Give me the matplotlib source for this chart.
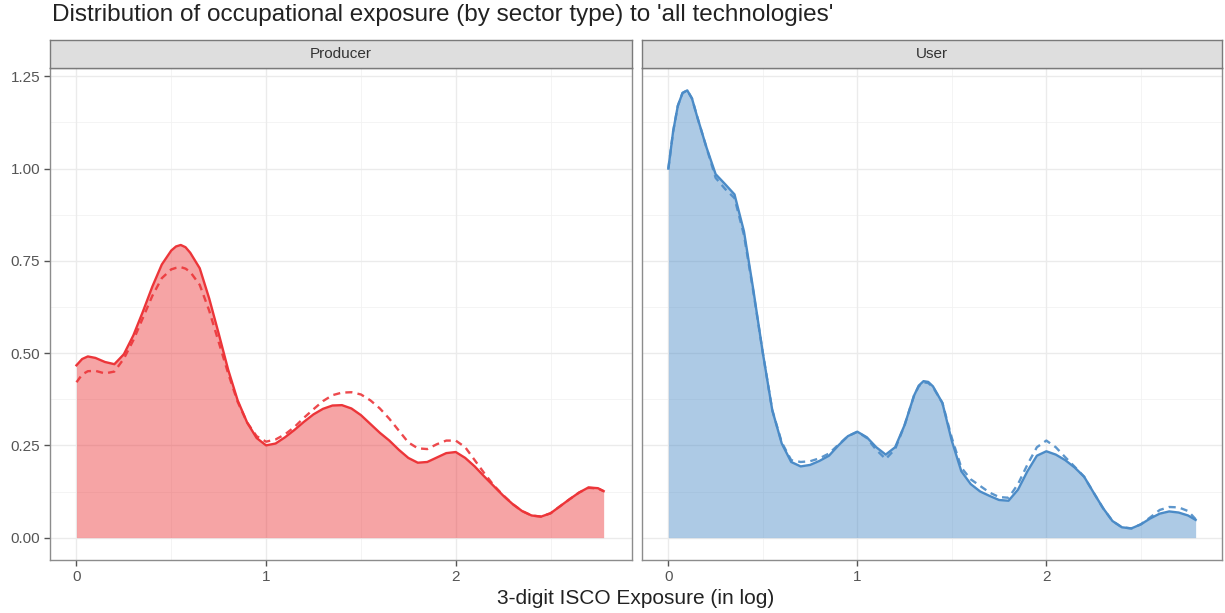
import matplotlib
matplotlib.use("Agg")
import matplotlib.pyplot as plt
import numpy as np

plt.rcParams['font.family'] = ['Liberation Sans', 'DejaVu Sans']

# ---------------- data ----------------
title = "Distribution of occupational exposure (by sector type) to 'all technologies'"
panels = ["Producer", "User"]
x_label = "3-digit ISCO Exposure (in log)"

x_prod = [0.00, 0.03, 0.06, 0.10, 0.15, 0.20, 0.25, 0.30, 0.35, 0.40, 0.45, 0.50, 0.525, 0.55, 0.575,
          0.60, 0.65, 0.70, 0.75, 0.80, 0.85, 0.90, 0.95, 1.00, 1.05, 1.10, 1.15, 1.20, 1.25, 1.30,
          1.35, 1.40, 1.45, 1.50, 1.55, 1.60, 1.65, 1.70, 1.75, 1.80, 1.85, 1.90, 1.95, 2.00, 2.05,
          2.10, 2.15, 2.20, 2.25, 2.30, 2.35, 2.40, 2.45, 2.50, 2.55, 2.60, 2.65, 2.70, 2.75, 2.78]
prod_solid = [0.467, 0.484, 0.491, 0.487, 0.476, 0.470, 0.497, 0.548, 0.612, 0.680, 0.740, 0.778,
              0.789, 0.793, 0.787, 0.772, 0.730, 0.648, 0.553, 0.455, 0.372, 0.312, 0.270, 0.250,
              0.255, 0.272, 0.292, 0.314, 0.334, 0.349, 0.358, 0.359, 0.350, 0.332, 0.308, 0.284,
              0.263, 0.238, 0.216, 0.203, 0.205, 0.217, 0.229, 0.232, 0.216, 0.193, 0.166, 0.140,
              0.114, 0.091, 0.072, 0.060, 0.057, 0.066, 0.085, 0.104, 0.122, 0.136, 0.134, 0.126]
prod_dashed = [0.421, 0.442, 0.451, 0.452, 0.445, 0.450, 0.485, 0.535, 0.595, 0.655, 0.703, 0.727,
               0.731, 0.733, 0.729, 0.720, 0.685, 0.615, 0.530, 0.445, 0.368, 0.312, 0.275, 0.260,
               0.266, 0.280, 0.300, 0.325, 0.348, 0.370, 0.386, 0.393, 0.394, 0.388, 0.372, 0.350,
               0.322, 0.290, 0.258, 0.242, 0.240, 0.253, 0.263, 0.263, 0.245, 0.210, 0.175, 0.142,
               0.115, 0.091, 0.072, 0.060, 0.057, 0.066, 0.085, 0.104, 0.122, 0.135, 0.133, 0.126]

x_user = [0.00, 0.025, 0.05, 0.075, 0.10, 0.125, 0.15, 0.20, 0.25, 0.30, 0.35, 0.40, 0.45, 0.50,
          0.55, 0.60, 0.65, 0.70, 0.75, 0.80, 0.85, 0.90, 0.95, 1.00, 1.05, 1.10, 1.15, 1.20, 1.25,
          1.30, 1.325, 1.35, 1.375, 1.40, 1.45, 1.50, 1.55, 1.60, 1.65, 1.70, 1.75, 1.80, 1.85, 1.90,
          1.95, 2.00, 2.05, 2.10, 2.15, 2.20, 2.25, 2.30, 2.35, 2.40, 2.45, 2.50, 2.55, 2.60, 2.65,
          2.70, 2.75, 2.79]
user_solid = [1.000, 1.100, 1.170, 1.205, 1.212, 1.190, 1.145, 1.060, 0.985, 0.958, 0.930, 0.830,
              0.670, 0.500, 0.345, 0.255, 0.205, 0.193, 0.197, 0.208, 0.222, 0.250, 0.275, 0.287,
              0.272, 0.245, 0.225, 0.245, 0.305, 0.385, 0.412, 0.424, 0.422, 0.410, 0.365, 0.262,
              0.180, 0.145, 0.125, 0.113, 0.102, 0.100, 0.130, 0.180, 0.222, 0.234, 0.225, 0.210,
              0.190, 0.165, 0.122, 0.080, 0.045, 0.028, 0.025, 0.036, 0.052, 0.065, 0.071, 0.068,
              0.060, 0.048]
user_dashed = [1.000, 1.100, 1.170, 1.205, 1.212, 1.190, 1.145, 1.060, 0.975, 0.945, 0.920, 0.820,
               0.665, 0.500, 0.345, 0.258, 0.210, 0.205, 0.207, 0.215, 0.228, 0.252, 0.275, 0.287,
               0.270, 0.238, 0.213, 0.240, 0.305, 0.385, 0.410, 0.421, 0.419, 0.408, 0.365, 0.270,
               0.190, 0.158, 0.140, 0.122, 0.110, 0.108, 0.145, 0.198, 0.245, 0.263, 0.245, 0.218,
               0.192, 0.165, 0.122, 0.080, 0.045, 0.028, 0.025, 0.036, 0.055, 0.075, 0.083, 0.082,
               0.072, 0.050]

colors = ["#EC3539", "#4B8BC7"]
y_ticks = [0.00, 0.25, 0.50, 0.75, 1.00, 1.25]
x_ticks = [0, 1, 2]

# ---------------- figure ----------------
W, H = 1225, 613
fig = plt.figure(figsize=(W / 100, H / 100), dpi=100)

def fx(px):
    return px / W

def fy(py):
    return 1 - py / H

panel_px = [(50, 632), (642, 1222)]
top_px, bot_px, strip_top_px = 68, 560, 40

series = [(x_prod, prod_solid, prod_dashed), (x_user, user_solid, user_dashed)]

ymax = max(max(prod_solid), max(prod_dashed), max(user_solid), max(user_dashed))
xmax = max(x_prod[-1], x_user[-1])
xlim = (-0.05 * xmax, xmax * 1.05)
ylim = (-0.05 * ymax, ymax * 1.05)

grid_major = "#EBEBEB"
grid_minor = "#F2F2F2"
border_col = "#8C8C8C"

for i, (name, (xs, ys, yd), col) in enumerate(zip(panels, series, colors)):
    l, r = panel_px[i]
    ax = fig.add_axes([fx(l), fy(bot_px), fx(r - l), (bot_px - top_px) / H])
    ax.set_xlim(*xlim)
    ax.set_ylim(*ylim)
    # grid
    for v in [0.125, 0.375, 0.625, 0.875, 1.125]:
        ax.axhline(v, color=grid_minor, lw=0.6, zorder=0)
    for v in [0.5, 1.5, 2.5]:
        ax.axvline(v, color=grid_minor, lw=0.6, zorder=0)
    for v in y_ticks:
        ax.axhline(v, color=grid_major, lw=1.0, zorder=0)
    for v in x_ticks:
        ax.axvline(v, color=grid_major, lw=1.0, zorder=0)

    ax.fill_between(xs, 0, ys, color=col, alpha=0.45, lw=0, zorder=1)
    ax.plot(xs, ys, color=col, lw=1.7, zorder=3, solid_joinstyle='round')
    ax.plot(xs, yd, color=col, lw=1.7, ls=(0, (3, 2.2)), alpha=0.9, zorder=2)

    for s in ax.spines.values():
        s.set_color(border_col)
        s.set_linewidth(1.0)
    ax.set_xticks(x_ticks)
    ax.set_xticklabels([str(t) for t in x_ticks])
    ax.set_yticks(y_ticks)
    ax.tick_params(axis='both', colors="#555555", labelcolor="#555555",
                   labelsize=11, length=4, width=1.0, pad=3)
    if i == 0:
        ax.set_yticklabels([f"{t:.2f}" for t in y_ticks])
    else:
        ax.set_yticklabels([])
        ax.tick_params(axis='y', length=0)

    # strip
    sax = fig.add_axes([fx(l), fy(top_px), fx(r - l), (top_px - strip_top_px) / H])
    sax.set_facecolor("#DEDEDE")
    sax.set_xticks([])
    sax.set_yticks([])
    for s in sax.spines.values():
        s.set_color("#7A7A7A")
        s.set_linewidth(1.0)
    sax.text(0.5, 0.5, name, ha='center', va='center', fontsize=11, color="#333333",
             transform=sax.transAxes)

fig.text(fx(52), fy(15), title, ha='left', va='center', fontsize=17.5, color="#222222")
fig.text(fx(636), fy(598), x_label, ha='center', va='center', fontsize=15, color="#222222")

fig.savefig("out.png", dpi=100, facecolor="white")
